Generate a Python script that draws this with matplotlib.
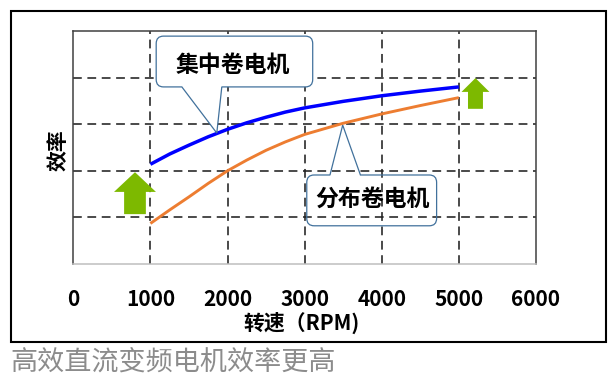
import matplotlib
matplotlib.use("Agg")
import matplotlib.pyplot as plt
from matplotlib.patches import Polygon, PathPatch, Rectangle
from matplotlib.path import Path

plt.rcParams["font.family"] = ["Noto Sans CJK SC", "DejaVu Sans"]

# ── 데이터 ───────────────────────────────────────────────────────
rpm = [1000, 1250, 1500, 1750, 2000, 2250, 2500, 2750, 3000,
       3500, 4000, 4500, 5000]
eff_concentrated = [2.14, 2.36, 2.55, 2.73, 2.89, 3.03, 3.15, 3.26, 3.35,
                    3.49, 3.61, 3.71, 3.80]
eff_distributed = [0.87, 1.16, 1.44, 1.73, 2.00, 2.23, 2.44, 2.62, 2.78,
                   3.02, 3.22, 3.40, 3.57]
x_ticks = [0, 1000, 2000, 3000, 4000, 5000, 6000]
y_grid = [1, 2, 3, 4]

label_concentrated = "集中卷电机"
label_distributed = "分布卷电机"
x_label = "转速（RPM)"
y_label = "效率"
caption = "高效直流变频电机效率更高"

# 上向き矢印: (中心x, 下端y, 上端y)
arrows = [(800, 1.07, 1.97), (5216, 3.33, 3.99)]

GREEN = "#7DB900"
GRID_LS = (0, (5.5, 3.5))


def _bubble(ax, box, base, tip, fill):
    """rounded box + pointer. box=(x0, x1, y0, y1) data 좌표."""
    x0, x1, y0, y1 = box
    rx, ry = 95, 0.16
    b0, b1 = base
    up = tip[1] > y1
    M, L, C, Z = Path.MOVETO, Path.LINETO, Path.CURVE3, Path.CLOSEPOLY
    v, c = [(x0 + rx, y1)], [M]
    if up:
        v += [(b0, y1), tip, (b1, y1)]; c += [L, L, L]
    v += [(x1 - rx, y1), (x1, y1), (x1, y1 - ry), (x1, y0 + ry),
          (x1, y0), (x1 - rx, y0)]
    c += [L, C, C, L, C, C]
    if not up:
        v += [(b1, y0), tip, (b0, y0)]; c += [L, L, L]
    v += [(x0 + rx, y0), (x0, y0), (x0, y0 + ry), (x0, y1 - ry),
          (x0, y1), (x0 + rx, y1), (x0 + rx, y1)]
    c += [L, C, C, L, C, C, Z]
    ax.add_patch(PathPatch(Path(v, c), facecolor=fill, edgecolor="#41719C",
                           lw=0.9, zorder=5, clip_on=False))


def _arrow(ax, cx, yb, yt, big):
    sw, hw = (141, 272) if big else (97, 181)
    hy = yb + (yt - yb) * (0.53 if big else 0.55)
    pts = [(cx - sw, yb), (cx + sw, yb), (cx + sw, hy), (cx + hw, hy),
           (cx, yt), (cx - hw, hy), (cx - sw, hy)]
    ax.add_patch(Polygon(pts, closed=True, facecolor=GREEN,
                         edgecolor="none", zorder=4, clip_on=False))


fig = plt.figure(figsize=(6.16, 3.88), dpi=100)
ax = fig.add_axes([0.119, 0.3196, 0.751, 0.6005])

ax.set_xlim(0, 6000)
ax.set_ylim(0, 5)
ax.set_xticks(x_ticks)
ax.set_xticklabels([str(t) for t in x_ticks], fontsize=15, fontweight="bold")
ax.set_yticks([])
ax.tick_params(axis="x", length=0, pad=18)

for g in y_grid:
    ax.axhline(g, color="#222222", lw=1.15, ls=GRID_LS, zorder=1)
for t in x_ticks[1:-1]:
    ax.axvline(t, color="#222222", lw=1.15, ls=GRID_LS, zorder=1)

for side in ("left", "right", "top"):
    ax.spines[side].set_color("#404040")
    ax.spines[side].set_linewidth(1.1)
ax.spines["bottom"].set_color("#BFBFBF")
ax.spines["bottom"].set_linewidth(1.1)

ax.plot(rpm, eff_concentrated, color="#0000FF", lw=2.5, zorder=3,
        solid_capstyle="butt")
ax.plot(rpm, eff_distributed, color="#ED7D31", lw=2.1, zorder=3,
        solid_capstyle="butt")

_bubble(ax, (1075, 3105, 3.80, 4.89), (1408, 1926), (1861, 2.81), "white")
ax.text(2069, 4.25, label_concentrated, fontsize=16.5, fontweight="bold",
        ha="center", va="center", zorder=6)
_bubble(ax, (3028, 4712, 0.82, 1.91), (3329, 3724), (3494, 2.98), "none")
ax.text(3882, 1.40, label_distributed, fontsize=16.5, fontweight="bold",
        ha="center", va="center", zorder=6)

for i, (cx, yb, yt) in enumerate(arrows):
    _arrow(ax, cx, yb, yt, big=(i == 0))

ax.set_xlabel(x_label, fontsize=15, fontweight="bold")
ax.xaxis.set_label_coords(0.494, -0.253)
ax.xaxis.label.set_va("center")
ax.set_ylabel(y_label, fontsize=15, fontweight="bold")
ax.yaxis.set_label_coords(-0.033, 0.489)
ax.yaxis.label.set_va("center")

# 바깥 프레임
fig.add_artist(Rectangle((0.0179, 0.1186), 0.9659, 0.8538,
                         transform=fig.transFigure, fill=False,
                         edgecolor="black", lw=1.5))

fig.text(10 / 616, 1 - 362 / 388, caption, fontsize=19.5, color="#8C8C8C",
         ha="left", va="center")

fig.savefig("out.png", dpi=100)
